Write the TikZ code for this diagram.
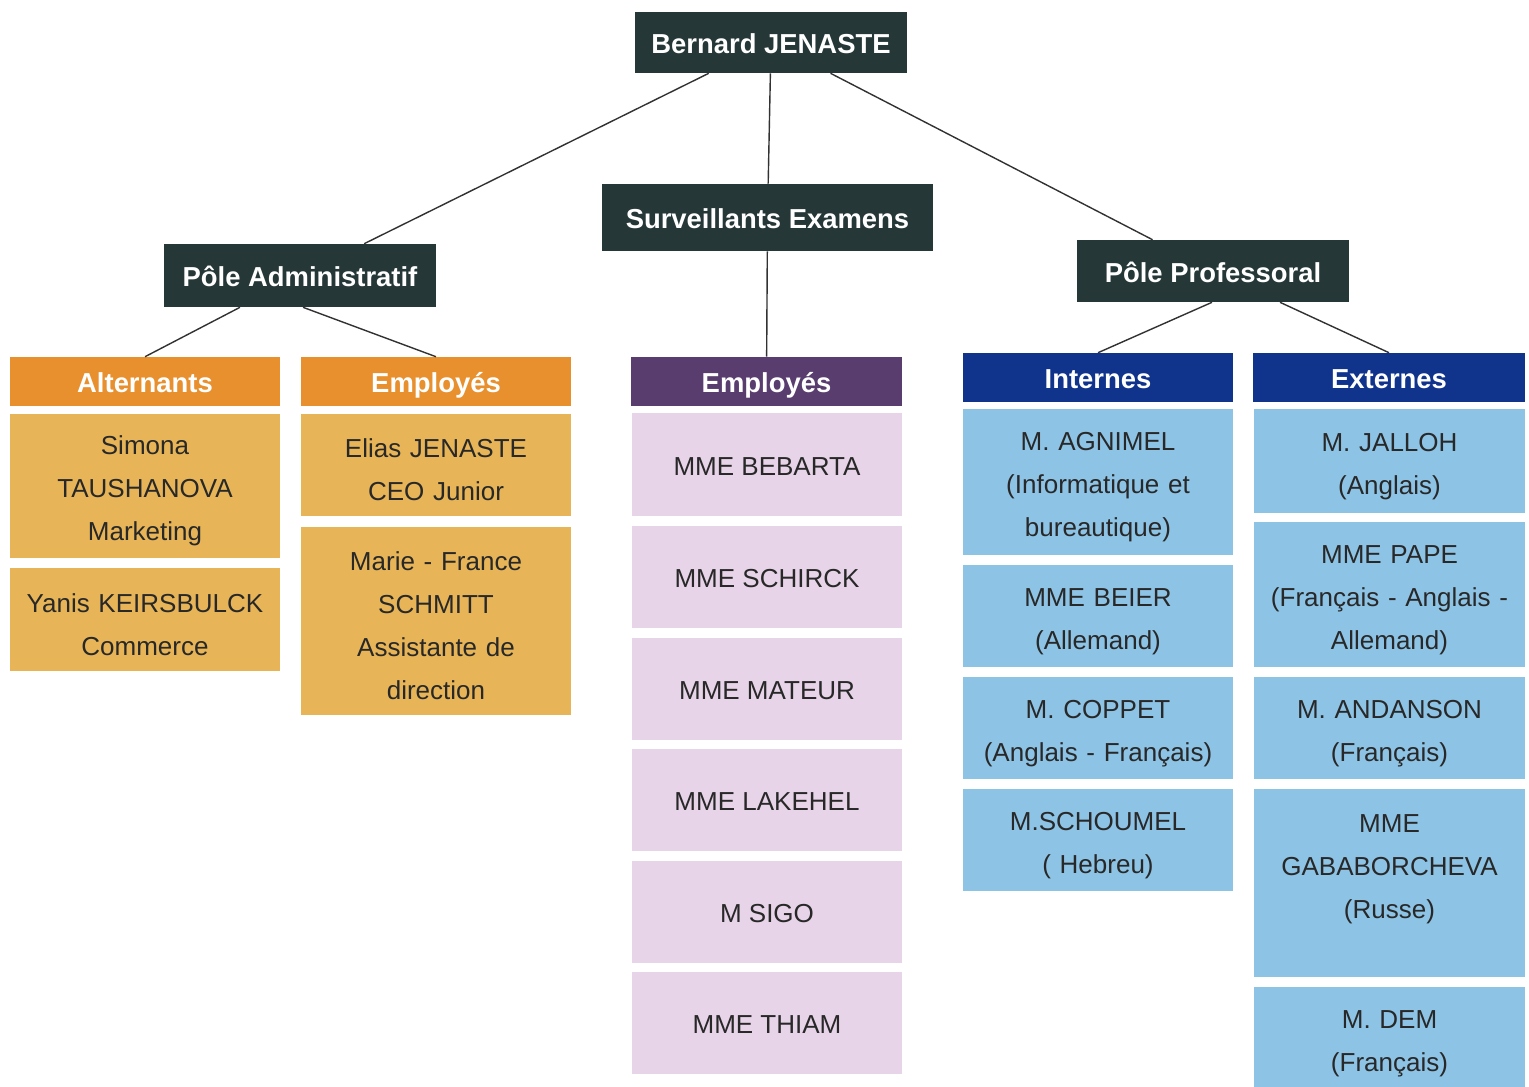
\documentclass[tikz,border=0pt]{standalone}
\usepackage{fontspec}
\setmainfont{Liberation Sans}
\usepackage{tikz}
\usetikzlibrary{positioning, calc}

\definecolor{darkbox}{RGB}{38,55,56}
\definecolor{orangehead}{RGB}{232,144,46}
\definecolor{orangecell}{RGB}{231,181,87}
\definecolor{purplehead}{RGB}{88,61,110}
\definecolor{purplecell}{RGB}{231,212,232}
\definecolor{bluehead}{RGB}{16,52,140}
\definecolor{bluecell}{RGB}{141,195,229}
\definecolor{celltext}{RGB}{40,40,40}
\definecolor{linkgray}{RGB}{50,50,50}

\begin{document}
\begin{tikzpicture}[x=0.025cm,y=-0.025cm,
        top/.style={rectangle, fill=darkbox, text=white, inner sep=0pt,
            font=\fontsize{19.5}{24}\selectfont\bfseries, minimum width=6.8cm,
            text height=17pt, text depth=1pt},
        head/.style={rectangle, inner sep=0pt, text=white,
            font=\fontsize{19.5}{24}\selectfont\bfseries,
            minimum width=6.75cm, minimum height=1.225cm,
            text height=17pt, text depth=1pt},
        cell/.style={rectangle, inner sep=0pt, text=celltext, align=center,
            font=\fontsize{18.5}{30.6}\selectfont, text width=6.75cm,
            execute at begin node={\rule{0pt}{20.5pt}}},
        pcell/.style={rectangle, inner sep=0pt, text=celltext, fill=purplecell,
            font=\fontsize{18.5}{30.6}\selectfont, minimum width=6.75cm,
            minimum height=2.55cm, text height=15pt, text depth=0pt},
        link/.style={draw=linkgray, line width=1pt}]
        \useasboundingbox (0,0) rectangle (1529,1086);

        % top of the tree
        \node[top, minimum height=1.525cm] (boss)  at (771,42.5)   {Bernard JENASTE};
        \node[top, minimum height=1.675cm, minimum width=8.275cm] (surv) at (767.5,217.5) {Surveillants Examens};
        \node[top, minimum height=1.575cm] (admin) at (300,275.5)  {Pôle Administratif};
        \node[top, minimum height=1.55cm]  (prof)  at (1213,271)   {Pôle Professoral};

        % column headers
        \node[head, fill=orangehead] (alt)   at (145,381.5)  {Alternants};
        \node[head, fill=orangehead] (empA)  at (436,381.5)  {Employés};
        \node[head, fill=purplehead] (empS)  at (766.5,381.5) {Employés};
        \node[head, fill=bluehead]   (int)   at (1098,377.5) {Internes};
        \node[head, fill=bluehead, minimum width=6.8cm] (ext) at (1389,377.5) {Externes};

        % alternants
        \node[cell, fill=orangecell, minimum height=3.6cm]   (a1) at (145,486)   {Simona\\TAUSHANOVA\\Marketing};
        \node[cell, fill=orangecell, minimum height=2.575cm] (a2) at (145,619.5) {Yanis KEIRSBULCK\\Commerce};

        % employes du pole administratif
        \node[cell, fill=orangecell, minimum height=2.55cm] (e1) at (436,465) {Elias JENASTE\\CEO Junior};
        \node[cell, fill=orangecell, minimum height=4.7cm]  (e2) at (436,621) {Marie - France\\SCHMITT\\Assistante de\\direction};

        % surveillants
        \node[pcell, minimum height=2.575cm] (s1) at (767,464.5) {MME BEBARTA};
        \node[pcell] (s2) at (767,577)   {MME SCHIRCK};
        \node[pcell] (s3) at (767,689)   {MME MATEUR};
        \node[pcell] (s4) at (767,800)   {MME LAKEHEL};
        \node[pcell] (s5) at (767,912)   {M SIGO};
        \node[pcell] (s6) at (767,1023)  {MME THIAM};

        % internes
        \node[cell, fill=bluecell, minimum height=3.65cm] (i1) at (1098,482) {M. AGNIMEL\\(Informatique et\\bureautique)};
        \node[cell, fill=bluecell, minimum height=2.55cm] (i2) at (1098,616) {MME BEIER\\(Allemand)};
        \node[cell, fill=bluecell, minimum height=2.55cm] (i3) at (1098,728) {M. COPPET\\(Anglais - Français)};
        \node[cell, fill=bluecell, minimum height=2.55cm] (i4) at (1098,840) {M.SCHOUMEL\\( Hebreu)};

        % externes
        \node[cell, fill=bluecell, minimum height=2.6cm,  minimum width=6.775cm] (x1) at (1389.5,461)   {M. JALLOH\\(Anglais)};
        \node[cell, fill=bluecell, minimum height=3.625cm, minimum width=6.775cm] (x2) at (1389.5,594.5) {MME PAPE\\(Français - Anglais -\\Allemand)};
        \node[cell, fill=bluecell, minimum height=2.55cm, minimum width=6.775cm] (x3) at (1389.5,728)   {M. ANDANSON\\(Français)};
        \node[cell, fill=bluecell, minimum height=4.7cm,  minimum width=6.775cm] (x4) at (1389.5,883)   {MME\\GABABORCHEVA\\(Russe)\\~};
        \node[cell, fill=bluecell, minimum height=2.55cm, minimum width=6.775cm] (x5) at (1389.5,1038)  {M. DEM\\(Français)};

        % links
        \path[link] (boss) edge (admin)
                    (boss) edge (surv)
                    (boss) edge (prof)
                    (surv) edge (empS);
        \draw[link] ($(admin.south)+(-60,0)$) -- (alt.north);
        \draw[link] ($(admin.south)+(3,0)$)   -- (empA.north);
        \draw[link] ($(prof.south)+(-1,0)$)  -- (int.north);
        \draw[link] ($(prof.south)+(67,0)$)   -- (ext.north);
    \end{tikzpicture}
\end{document}
